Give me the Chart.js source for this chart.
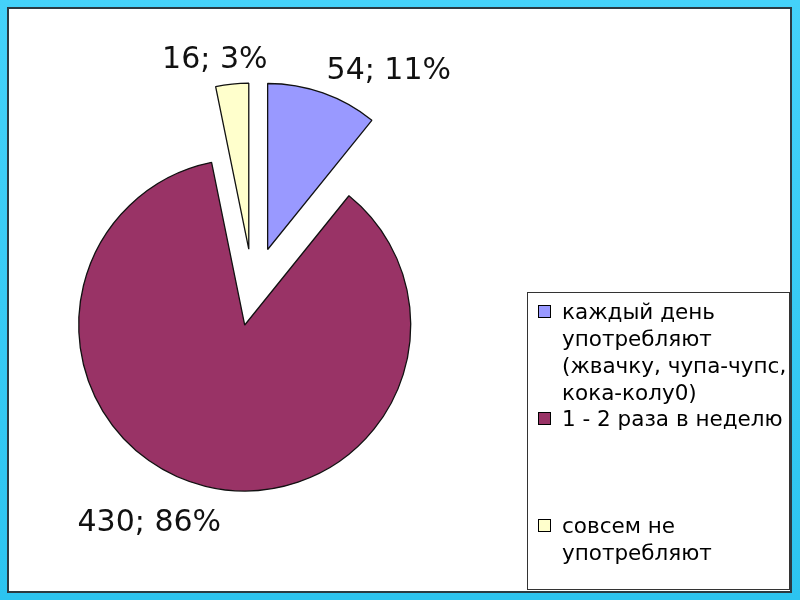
<!DOCTYPE html>
<html>
<head>
<meta charset="UTF-8">
<script src="https://cdn.jsdelivr.net/npm/chart.js@4.4.0/dist/chart.umd.min.js"></script>
<style>
    body { margin:0; }
    #frame { position:absolute; left:0; top:0; width:800px; height:600px; background:linear-gradient(#44d2fa, #2cc4f0); }
    #paper { position:absolute; left:7px; top:7px; width:781px; height:582px; background:#fff; border:2px solid #2b3a42; }
    #pie { position:absolute; left:0; top:0; }
</style>
</head>
<body>
<div id="frame"><div id="paper"></div></div>
<canvas id="pie" width="800" height="600"></canvas>

<script>
    // данные опроса
    const categories = [
        ['каждый день', 'употребляют', '(жвачку, чупа-чупс,', 'кока-колу0)'],
        ['1 - 2 раза в неделю'],
        ['совсем не', 'употребляют']
    ];
    const counts = [54, 430, 16];
    const sliceColors = ['#9999FF', '#993366', '#FFFFCC'];

    // раздвинутые сектора: сдвигаем дуги от центра
    const explodePlugin = {
        id: 'explode',
        beforeDatasetsDraw(chart, args, opts) {
            const area = chart.chartArea;
            const cx = (area.left + area.right) / 2;
            const cy = (area.top + area.bottom) / 2;
            chart.getDatasetMeta(0).data.forEach(function(arc, i) {
                const mid = (arc.startAngle + arc.endAngle) / 2;
                const d = opts.distance[i] || 0;
                arc.x = cx + Math.cos(mid) * d;
                arc.y = cy + Math.sin(mid) * d;
            });
        }
    };

    // подписи "значение; процент"
    const valueLabels = {
        id: 'valueLabels',
        afterDatasetsDraw(chart, args, opts) {
            const ctx = chart.ctx;
            const area = chart.chartArea;
            const cx = (area.left + area.right) / 2;
            const cy = (area.top + area.bottom) / 2;
            const data = chart.data.datasets[0].data;
            const total = data.reduce(function(a, b) { return a + b; }, 0);
            ctx.save();
            ctx.font = opts.font;
            ctx.fillStyle = '#111';
            ctx.textAlign = 'center';
            ctx.textBaseline = 'middle';
            chart.getDatasetMeta(0).data.forEach(function(arc, i) {
                const mid = (arc.startAngle + arc.endAngle) / 2;
                const dx = Math.cos(mid), dy = Math.sin(mid);
                const r = arc.outerRadius + opts.gap;
                const text = data[i] + '; ' + Math.round(data[i] / total * 100) + '%';
                const w = ctx.measureText(text).width;
                const k = Math.max(-1, Math.min(1, dx / 0.33));
                const tx = cx + dx * r + k * w / 2;
                const ty = cy + dy * r + (dy < 0 ? -opts.above : opts.below);
                ctx.fillText(text, tx, ty);
            });
            ctx.restore();
        }
    };

    // легенда в рамке справа внизу
    const boxLegend = {
        id: 'boxLegend',
        afterDraw(chart, args, opts) {
            const ctx = chart.ctx;
            const labels = chart.data.labels;
            const colors = chart.data.datasets[0].backgroundColor;
            ctx.save();
            ctx.strokeStyle = '#333';
            ctx.lineWidth = 1;
            ctx.strokeRect(opts.left + 0.5, opts.top + 0.5, opts.width, opts.height);
            ctx.font = opts.font;
            ctx.textAlign = 'left';
            ctx.textBaseline = 'middle';
            labels.forEach(function(lines, i) {
                const y0 = opts.top + opts.firstLine + i * opts.itemStep;
                ctx.fillStyle = colors[i];
                ctx.fillRect(opts.left + 11, y0 - 8, 13, 13);
                ctx.strokeStyle = '#000';
                ctx.strokeRect(opts.left + 11.5, y0 - 7.5, 12, 12);
                ctx.fillStyle = '#000';
                lines.forEach(function(line, j) {
                    ctx.fillText(line, opts.left + 35, y0 + j * opts.lineHeight);
                });
            });
            ctx.restore();
        }
    };

    new Chart(document.getElementById('pie'), {
        type: 'pie',
        data: {
            labels: categories,
            datasets: [{
                data: counts,
                backgroundColor: sliceColors,
                borderColor: '#111',
                borderWidth: 1.3,
                radius: 166
            }]
        },
        options: {
            responsive: false,
            animation: false,
            layout: { padding: { left: 0, top: 0, right: 294, bottom: 18 } },
            plugins: {
                legend: { display: false },
                tooltip: { enabled: false },
                explode: { distance: [44, 35, 42] },
                valueLabels: { font: '30px "DejaVu Sans"', gap: 55, above: 11, below: 17 },
                boxLegend: {
                    left: 527, top: 292, width: 262, height: 297,
                    font: '21.5px "DejaVu Sans"',
                    firstLine: 21, itemStep: 107, lineHeight: 27
                }
            }
        },
        plugins: [explodePlugin, valueLabels, boxLegend]
    });
</script>
</body>
</html>
